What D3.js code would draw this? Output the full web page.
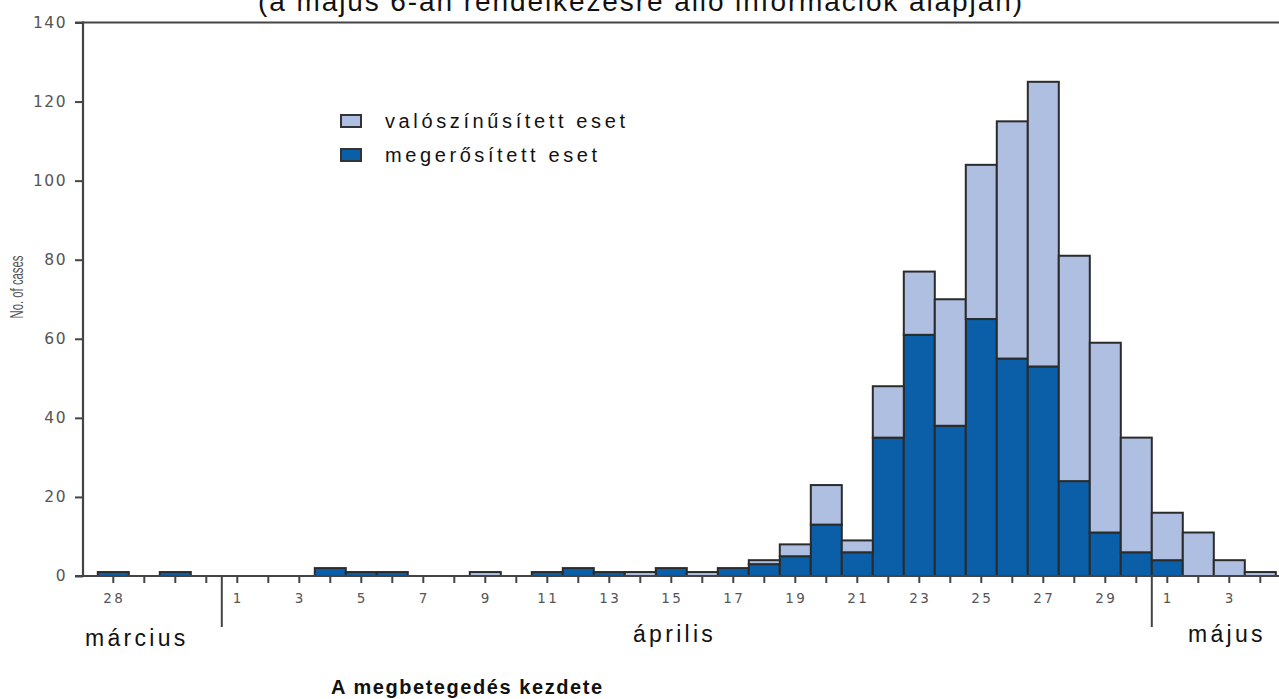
<!DOCTYPE html>
<html>
<head>
<meta charset="utf-8">
<script src="https://cdn.jsdelivr.net/npm/d3@7"></script>
<style>
body { margin: 0; background: #fff; }
svg { display: block; }
text { font-family: Arial, "Liberation Sans", sans-serif; }
</style>
</head>
<body>
<svg width="1279" height="699"></svg>
<script>
// days from 28 March to 4 May
var days = ["28","29","30","31",
  "1","2","3","4","5","6","7","8","9","10","11","12","13","14","15",
  "16","17","18","19","20","21","22","23","24","25","26","27","28","29","30",
  "1","2","3","4"];
var tickLabels = ["28","","","",
  "1","","3","","5","","7","","9","","11","","13","","15",
  "","17","","19","","21","","23","","25","","27","","29","",
  "1","","3",""];
// megerősített eset
var confirmed = [1,0,1,0,
  0,0,0,2,1,1,0,0,0,0,1,2,1,0,2,
  0,2,3,5,13,6,35,61,38,65,55,53,24,11,6,
  4,0,0,0];
// valószínűsített eset
var probable = [0,0,0,0,
  0,0,0,0,0,0,0,0,1,0,0,0,0,1,0,
  1,0,1,3,10,3,13,16,32,39,60,72,57,48,29,
  12,11,4,1];
var months = [
  {name: "március", first: 0, last: 3},
  {name: "április", first: 4, last: 33},
  {name: "május", first: 34, last: 37}
];
var yTicks = [0,20,40,60,80,100,120,140];
var seriesNames = ["valószínűsített eset", "megerősített eset"];

var svg = d3.select("svg");
var colors = {confirmed: "#0b5fa8", probable: "#aebfe2"};

var rows = days.map(function(d, i) {
  return {i: i, day: d, confirmed: confirmed[i], probable: probable[i]};
});

var x = d3.scaleBand().domain(d3.range(days.length)).range([97.8, 97.8 + 31 * days.length]).padding(0);
var y = d3.scaleLinear().domain([0, 140]).range([576, 22.5]);

var stack = d3.stack().keys(["confirmed", "probable"]);
var layers = stack(rows);

// bars
var g = svg.append("g");
layers.forEach(function(layer) {
  g.selectAll(".bar-" + layer.key)
    .data(layer.filter(function(d) { return d[1] > d[0]; }))
    .enter().append("rect")
    .attr("x", function(d) { return x(d.data.i); })
    .attr("y", function(d) { return y(d[1]); })
    .attr("width", x.bandwidth())
    .attr("height", function(d) { return y(d[0]) - y(d[1]); })
    .attr("fill", colors[layer.key])
    .attr("stroke", "#2b2b2b")
    .attr("stroke-width", 2);
});

// y axis
var yAxis = svg.append("g")
  .attr("transform", "translate(83,0)")
  .attr("font-size", 16)
  .attr("font-family", "'DejaVu Sans', sans-serif")
  .call(d3.axisLeft(y).tickValues(yTicks).tickSize(8).tickPadding(8));
yAxis.select(".domain").remove();
yAxis.selectAll(".tick line").attr("stroke", "#444").attr("stroke-width", 2);
yAxis.selectAll(".tick text")
  .attr("fill", "#555")
  .style("font-family", "'DejaVu Sans', sans-serif")
  .style("font-size", "15.5px")
  .style("letter-spacing", "1.5px");

svg.append("line")
  .attr("x1", 83).attr("x2", 83)
  .attr("y1", y(140) - 1).attr("y2", y(0) + 1)
  .attr("stroke", "#444").attr("stroke-width", 2.2);
svg.append("line")
  .attr("x1", 75).attr("x2", 1279)
  .attr("y1", y(140)).attr("y2", y(140))
  .attr("stroke", "#444").attr("stroke-width", 2.2);

// x axis
var xAxis = svg.append("g")
  .attr("transform", "translate(0," + y(0) + ")")
  .attr("font-size", 14)
  .attr("font-family", "'DejaVu Sans', sans-serif")
  .call(d3.axisBottom(x).tickSize(7).tickPadding(10)
    .tickFormat(function(i) { return tickLabels[i]; }));
xAxis.select(".domain").remove();
xAxis.selectAll(".tick line").attr("stroke", "#444").attr("stroke-width", 2);
xAxis.selectAll(".tick text")
  .attr("fill", "#555")
  .attr("dx", "1px")
  .style("font-family", "'DejaVu Sans', sans-serif")
  .style("font-size", "13.5px")
  .style("letter-spacing", "2.5px");
svg.append("line")
  .attr("x1", 75).attr("x2", 1279)
  .attr("y1", y(0)).attr("y2", y(0))
  .attr("stroke", "#444").attr("stroke-width", 2.2);

// month separators and names
months.forEach(function(m, k) {
  if (k > 0) {
    var sx = x(m.first);
    svg.append("line")
      .attr("x1", sx).attr("x2", sx)
      .attr("y1", y(0)).attr("y2", 627)
      .attr("stroke", "#444").attr("stroke-width", 2);
  }
});
var monthPos = [85, 633, 1188];
svg.selectAll(".month")
  .data(months)
  .enter().append("text")
  .attr("class", "month")
  .attr("x", function(d, k) { return monthPos[k]; })
  .attr("y", function(d, k) { return k === 0 ? 646 : 642; })
  .style("font-size", "23px")
  .style("letter-spacing", "3.3px")
  .attr("fill", "#111")
  .text(function(d) { return d.name; });

// y label
svg.append("text")
  .attr("transform", "translate(23,287) rotate(-90)")
  .attr("text-anchor", "middle")
  .attr("fill", "#555")
  .style("font-size", "18px")
  .attr("textLength", 63)
  .attr("lengthAdjust", "spacingAndGlyphs")
  .text("No. of cases");

// legend
var legend = svg.append("g");
var legendColors = [colors.probable, colors.confirmed];
var legendW = [240, 212];
seriesNames.forEach(function(name, k) {
  var ly = 121 + k * 34;
  legend.append("rect")
    .attr("x", 341).attr("y", ly - 6)
    .attr("width", 20).attr("height", 12)
    .attr("fill", legendColors[k])
    .attr("stroke", "#333").attr("stroke-width", 2);
  legend.append("text")
    .attr("x", 385).attr("y", ly + 7)
    .attr("fill", "#111")
    .style("font-size", "20px")
    .attr("textLength", legendW[k])
    .attr("lengthAdjust", "spacing")
    .text(name);
});

// titles
svg.append("text")
  .attr("x", 258).attr("y", 11)
  .attr("fill", "#111")
  .style("font-size", "28px")
  .attr("textLength", 764)
  .attr("lengthAdjust", "spacing")
  .text("(a május 6-án rendelkezésre álló információk alapján)");

svg.append("text")
  .attr("x", 331).attr("y", 694)
  .attr("fill", "#111")
  .style("font-size", "20px")
  .style("font-weight", "bold")
  .attr("textLength", 271)
  .attr("lengthAdjust", "spacing")
  .text("A megbetegedés kezdete");
</script>
</body>
</html>
